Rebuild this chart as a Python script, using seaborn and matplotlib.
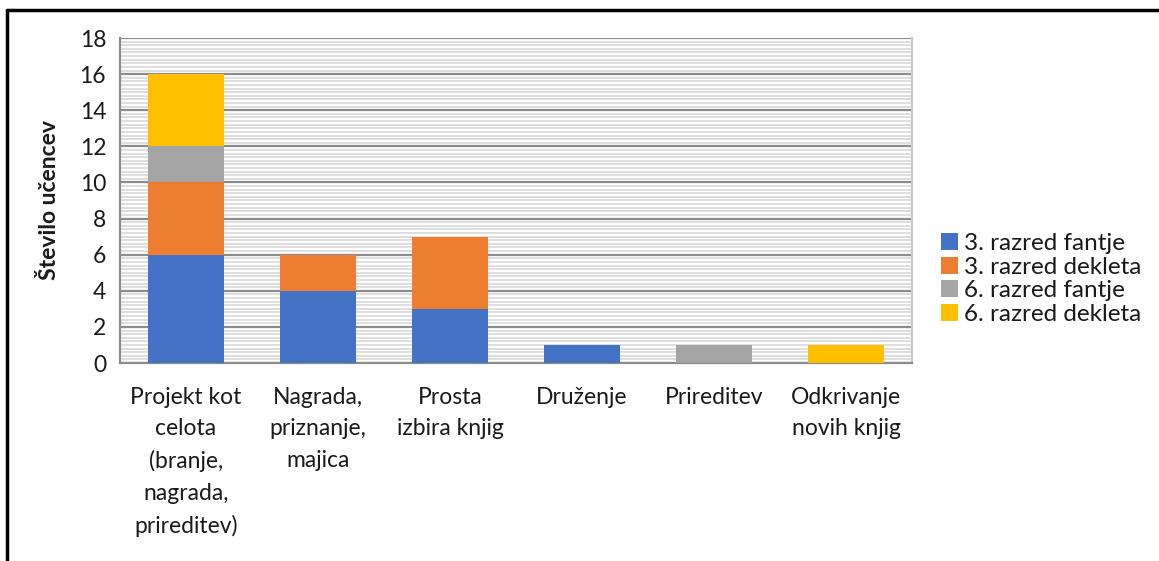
import matplotlib
matplotlib.use("Agg")
import matplotlib.pyplot as plt
import matplotlib.lines as mlines
from matplotlib.ticker import MultipleLocator
import seaborn as sns
import pandas as pd
import numpy as np

categories = ["Projekt kot\ncelota\n(branje,\nnagrada,\nprireditev)",
              "Nagrada,\npriznanje,\nmajica",
              "Prosta\nizbira knjig",
              "Druženje",
              "Prireditev",
              "Odkrivanje\nnovih knjig"]
series_names = ["3. razred fantje", "3. razred dekleta", "6. razred fantje", "6. razred dekleta"]
r3_fantje = [6, 4, 3, 1, 0, 0]
r3_dekleta = [4, 2, 4, 0, 0, 0]
r6_fantje = [2, 0, 0, 0, 1, 0]
r6_dekleta = [4, 0, 0, 0, 0, 1]
colors = ["#4472C4", "#ED7D31", "#A5A5A5", "#FFC000"]

sns.set_style("white")
plt.rcParams['font.family'] = ['Lato', 'DejaVu Sans']

fig = plt.figure(figsize=(11.59, 5.61), dpi=100)
ax = fig.add_axes([120/1159, 1-363/561, (912-120)/1159, (363-38)/561])

values = [r3_fantje, r3_dekleta, r6_fantje, r6_dekleta]
bottom = np.zeros(len(categories))
for name, vals, col in zip(series_names, values, colors):
    df = pd.DataFrame({"cat": categories, "val": vals})
    sns.barplot(data=df, x="cat", y="val", ax=ax, color=col, bottom=bottom,
                width=0.57, linewidth=0, label=name, zorder=3, errorbar=None,
                saturation=1)
    bottom = bottom + np.array(vals)

ax.set_xlim(-0.5, 5.5)
ax.set_ylim(0, 18)
ax.yaxis.set_major_locator(MultipleLocator(2))
ax.yaxis.set_minor_locator(MultipleLocator(0.2))
ax.grid(which="major", axis="y", color="#8c8c8c", linewidth=1.6, zorder=1)
ax.grid(which="minor", axis="y", color="#dcdcdc", linewidth=1.3, zorder=0)
ax.set_axisbelow(True)
ax.spines["top"].set_visible(False)
ax.spines["left"].set_color("#8c8c8c")
ax.spines["left"].set_linewidth(1.6)
ax.spines["bottom"].set_color("#8c8c8c")
ax.spines["bottom"].set_linewidth(1.6)
ax.spines["right"].set_color("#c8c8c8")
ax.spines["right"].set_linewidth(1.6)

ax.tick_params(axis="y", which="major", direction="out", length=7, width=1.4,
               color="#8c8c8c", labelsize=16.5, pad=3, labelcolor="#1a1a1a")
ax.tick_params(axis="y", which="minor", length=0)
ax.tick_params(axis="x", length=0, labelsize=16.5, pad=17, labelcolor="#1a1a1a")
for lbl in ax.get_xticklabels():
    lbl.set_linespacing(1.62)
    lbl.set_verticalalignment("top")

ax.set_xlabel("")
ax.set_ylabel("Število učencev", fontsize=16.5, fontweight="bold", labelpad=14, color="#1a1a1a")

leg = ax.legend(loc="center left", bbox_to_anchor=(941/1159, 1-279/561),
                bbox_transform=fig.transFigure, frameon=False, fontsize=17.5,
                handlelength=0.7, handleheight=0.7, handletextpad=0.25,
                labelspacing=0.1, borderaxespad=0, borderpad=0)
for t in leg.get_texts():
    t.set_color("#1a1a1a")

# outer frame (top and left edges visible)
fig.add_artist(mlines.Line2D([7/1159, 1], [1-10/561, 1-10/561], transform=fig.transFigure,
                             color="black", linewidth=2.5))
fig.add_artist(mlines.Line2D([7/1159, 7/1159], [0, 1-10/561], transform=fig.transFigure,
                             color="black", linewidth=2.5))

fig.savefig("out.png", dpi=100, facecolor="white")
